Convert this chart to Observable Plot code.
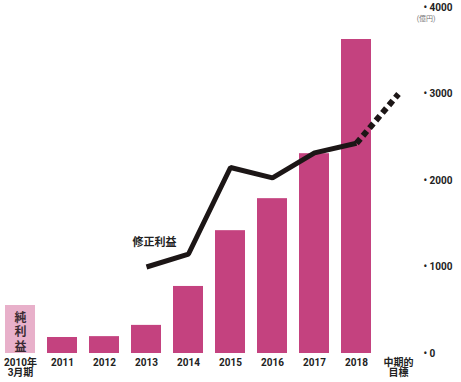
<!DOCTYPE html>
<html>
<head>
<meta charset="utf-8">
<script src="https://cdn.jsdelivr.net/npm/d3@7"></script>
<script src="https://cdn.jsdelivr.net/npm/@observablehq/plot@0.6"></script>
<style>
  html, body { margin: 0; padding: 0; background: #fff; }
  #chart svg { display: block; }
</style>
</head>
<body>
<div id="chart"></div>
<script>
// Categories (fiscal years ending March) and the medium-term target
const categories = ["2010", "2011", "2012", "2013", "2014", "2015", "2016", "2017", "2018", "目標"];
const tickLabels = ["2010年\n3月期", "2011", "2012", "2013", "2014", "2015", "2016", "2017", "2018", "中期的\n目標"];
// 純利益 (net profit, 億円) bars
const barYears = ["2010", "2011", "2012", "2013", "2014", "2015", "2016", "2017", "2018"];
const netProfit = [555, 185, 195, 325, 775, 1420, 1790, 2310, 3630];
// 修正利益 (adjusted profit, 億円) line
const lineYears = ["2013", "2014", "2015", "2016", "2017", "2018"];
const adjProfit = [1000, 1150, 2150, 2030, 2320, 2430];
// dashed projection to the medium-term target
const targetYears = ["2018", "目標"];
const targetValues = [2430, 3000];
const yTicks = [0, 1000, 2000, 3000, 4000];

const bars = barYears.map((x, i) => ({x, y: netProfit[i], first: i === 0}));
const line = lineYears.map((x, i) => ({x, y: adjProfit[i]}));
const target = targetYears.map((x, i) => ({x, y: targetValues[i]}));
const labelOf = new Map(categories.map((c, i) => [c, tickLabels[i]]));

const font = "'Liberation Sans Narrow', 'Roboto', 'Noto Sans CJK JP', sans-serif";

const chart = Plot.plot({
  width: 461,
  height: 382,
  marginLeft: 0,
  marginRight: 38,
  marginTop: 7,
  marginBottom: 29,
  style: {fontFamily: font, fontWeight: "bold", fontSize: "10px", color: "#222", background: "#fff"},
  x: {domain: categories, range: [-3.25, 421.75], paddingInner: 0.29, paddingOuter: 0.145, axis: null, label: null},
  y: {domain: [0, 4000], axis: null, label: null},
  marks: [
    Plot.barY(bars, {x: "x", y: "y", fill: d => d.first ? "#e8b0ca" : "#c4427f"}),
    Plot.text(["純\n利\n益"], {x: () => "2010", y: () => 555, lineAnchor: "top", dy: 6, lineHeight: 1.2, fontSize: 12, fontWeight: "bold", fill: "#3a2a32"}),
    Plot.line(line, {x: "x", y: "y", stroke: "#1c1616", strokeWidth: 5, strokeLinejoin: "miter", strokeLinecap: "butt"}),
    Plot.line(target, {x: "x", y: "y", stroke: "#1c1616", strokeWidth: 6, strokeDasharray: "6,4", strokeLinecap: "butt"}),
    Plot.text(["修正利益"], {x: () => "2013", y: () => 1000, dx: 8, dy: -25, fontSize: 11, fontWeight: "bold", fill: "#222"}),
    Plot.axisX({
      anchor: "bottom", tickSize: 0, tickPadding: 5, lineAnchor: "top", label: null,
      tickFormat: d => labelOf.get(d), fontSize: 10, fontWeight: "bold", fill: "#222"
    }),
    Plot.axisY(yTicks, {
      anchor: "right", tickSize: 0, tickPadding: 0, textAnchor: "start", label: null,
      tickFormat: d => "• " + d, fontSize: 10, fontWeight: "bold", fill: "#222"
    }),
    Plot.text(["(億円)"], {frameAnchor: "top-right", dx: 12, dy: 9, fontSize: 7, fontWeight: "normal", fill: "#777"})
  ]
});
document.getElementById("chart").append(chart);
</script>
</body>
</html>
